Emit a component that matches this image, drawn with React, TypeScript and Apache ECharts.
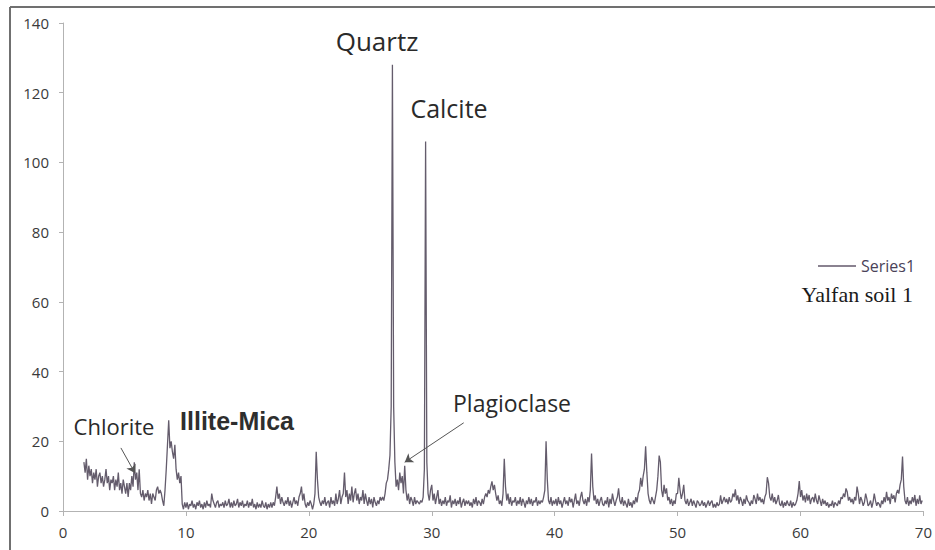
import React, { useEffect, useRef } from "react";
import * as echarts from "echarts";

// XRD pattern "Yalfan soil 1": intensity vs 2-theta (degrees), sampled every 0.1 degree
const STEP = 0.1;

// 1.7 .. 9.9
const seg1Start = 1.7;
const seg1 = [
  14, 11, 15,
  9, 13, 10, 12, 8, 11, 9, 12, 7, 10,
  11, 8, 10, 7, 9, 12, 8, 10, 6, 9,
  8, 10, 6, 9, 7, 11, 6, 8, 5, 9,
  7, 5, 8, 4, 8, 6, 10, 7, 14, 9,
  11, 6, 12, 5, 4, 6, 3, 5, 4, 6,
  3, 5, 2, 5, 4, 3, 6, 7, 5, 6,
  5, 3, 1.5, 6, 12, 19, 26, 18, 20, 17,
  15, 19, 12, 9, 11, 8, 10, 2, 0.5, 2.5,
];

// 10.0 .. 19.9
const seg2Start = 10;
const seg2 = [
  1, 2.5, 0.5, 2, 1.5, 3, 1, 2, 0.5, 2.5,
  1.5, 3, 1, 2, 0.5, 2.5, 1, 3, 1.5, 2,
  1, 5, 3, 2, 1, 2.5, 3, 1, 2, 1.5,
  2.5, 1, 3, 1.5, 2, 3.5, 1, 2.5, 1, 3,
  1.5, 2, 3.5, 1, 2.5, 1.5, 3, 1, 2, 1.5,
  3, 1, 2.5, 1.5, 3.5, 1, 2, 0.5, 2.5, 1,
  2, 1, 3, 1.5, 1, 2.5, 0.5, 2, 1, 2.5,
  1, 2.5, 1.5, 4, 7, 3.5, 5, 2, 4, 2.5,
  1.5, 3, 2, 4, 1.5, 3, 1, 2.5, 4, 2,
  3, 1.5, 4, 5, 7, 3, 5, 2, 1, 2.5,
];

// 20.0 .. 29.9 (Quartz, Plagioclase, Calcite)
const seg3Start = 20;
const seg3 = [
  1.5, 3, 2, 0.5, 2, 5, 17, 9, 4, 2.5,
  1.5, 3, 2, 4, 1.5, 2.5, 3, 1, 4, 2,
  3, 1.5, 5, 2, 3.5, 6, 2, 4, 5, 11,
  4, 6, 2, 5, 3, 7, 2.5, 5, 6.5, 3,
  5, 2, 4, 3, 6, 2, 5, 3, 1.5, 4,
  2, 3.5, 1, 4, 2.5, 1.5, 3, 2, 4, 3,
  4, 3, 5, 8, 9, 12, 16, 30, 128, 30,
  14, 7, 9, 6, 11, 8, 10, 5, 13, 6,
  3, 5, 2, 4, 3, 1.5, 4, 2, 3, 2.5,
  2, 3, 2.5, 4, 12, 106, 14, 5, 3, 6,
];

// 30.0 .. 39.9
const seg4Start = 30;
const seg4 = [
  7.5, 3, 5, 2, 4, 6, 2, 3.5, 1.5, 3,
  2, 4, 1.5, 3, 2.5, 4.5, 1, 3, 2, 3.5,
  1.5, 3, 2, 4, 1, 2.5, 3.5, 1.5, 3, 2,
  3, 1.5, 2.5, 1, 3.5, 2, 4, 1.5, 3, 2.5,
  1.5, 3.5, 2, 4, 5, 4, 6, 5, 7, 8.5,
  6, 7.5, 5, 3, 4.5, 2, 3, 1.5, 5, 15,
  7, 3, 5, 2, 4, 1.5, 3, 2.5, 4, 1.5,
  3, 2, 4, 1.5, 3.5, 2.5, 1, 3, 2, 4,
  2, 3.5, 1.5, 3, 2.5, 4, 1.5, 3, 2, 3,
  2.5, 4, 6, 20, 9, 3, 2, 4, 1.5, 3,
];

// 40.0 .. 49.9
const seg5Start = 40;
const seg5 = [
  2, 3.5, 1.5, 4, 2, 3, 1, 2.5, 4, 2,
  3, 1.5, 4, 2.5, 3.5, 1, 3, 5, 2, 3,
  1.5, 4, 5.5, 3, 2, 3.5, 1.5, 4, 2.5, 6,
  16.5, 7, 3, 4.5, 2, 3.5, 1.5, 3, 4, 2,
  1.5, 3, 2, 4, 1, 3.5, 2, 5, 3, 1.5,
  3, 4, 6.5, 3, 2, 4, 1.5, 3, 2, 1,
  3.5, 1.5, 2.5, 1, 3, 2, 4, 2.5, 5, 6,
  9.5, 7, 10, 12, 18.6, 11, 5, 3, 2, 4,
  3, 2, 4, 6, 10, 15.9, 14, 6, 4, 7.5,
  5, 6.5, 3, 4, 2, 3.5, 1.5, 3, 2, 5,
];

// 50.0 .. 59.9
const seg6Start = 50;
const seg6 = [
  5, 9.5, 6, 3.5, 5, 7.5, 3, 2, 3.5, 1.5,
  2.5, 3.5, 1.5, 3, 2, 1, 3, 2.5, 1.5, 2,
  3, 1.5, 2.5, 1, 2, 3, 1.5, 2.5, 3, 1,
  2, 1, 2.5, 1.5, 2, 4.5, 2, 3, 4, 2.5,
  3.5, 2, 4, 2.5, 3, 5, 4, 6.2, 3, 4.5,
  2, 4, 3, 1.5, 3.5, 2, 4.5, 3, 2.5, 1.5,
  3, 2, 4.6, 3.5, 2, 5, 3, 4, 2.5, 3.5,
  2, 4, 5, 9.7, 8, 4, 3, 5, 2.5, 4,
  2, 3, 4.6, 2, 1.5, 3, 1, 2.5, 1.5, 3,
  2, 1.5, 3, 1, 2.5, 1.5, 2, 3, 5, 8.6,
];

// 60.0 .. 69.9
const seg7Start = 60;
const seg7 = [
  4, 6, 3, 4.5, 2.5, 5, 3, 4.6, 2, 3.5,
  4, 2.5, 5, 3, 2, 4.5, 3, 1.5, 3.5, 2,
  3, 1.5, 2.5, 1, 2, 1.5, 3, 1, 2.5, 2,
  1.5, 3, 2, 4, 3.5, 5, 4, 6.5, 5.5, 3,
  4, 2.5, 3.5, 2, 4, 3, 7, 5, 2, 4,
  3, 1.5, 2.5, 5, 3.5, 1.5, 2, 3, 1, 2.5,
  5, 3, 1.5, 2.5, 2, 1, 3, 2, 4, 2.5,
  5.5, 3, 4, 2, 5, 3.5, 4.5, 2.5, 5, 6,
  5, 7.5, 9, 15.6, 7, 3, 2, 4, 1.5, 3,
  2, 4, 2.5, 4.6, 1.5, 3.5, 2, 4.5, 2, 3,
];

const segments: { start: number; values: number[] }[] = [
  { start: seg1Start, values: seg1 },
  { start: seg2Start, values: seg2 },
  { start: seg3Start, values: seg3 },
  { start: seg4Start, values: seg4 },
  { start: seg5Start, values: seg5 },
  { start: seg6Start, values: seg6 },
  { start: seg7Start, values: seg7 },
];

// Arrow annotations in data coordinates: [from, to]
const chloriteArrow = [[4.71, 18.1], [5.85, 10.9]];
const plagioclaseArrow = [[32.6, 25.3], [27.8, 14.0]];

function buildPoints(): [number, number][] {
  const pts: [number, number][] = [];
  segments.forEach((s) => {
    s.values.forEach((v, i) => {
      pts.push([Math.round((s.start + i * STEP) * 10) / 10, v]);
    });
  });
  return pts;
}

const LINE_COLOR = "#645c6c";
const AXIS_COLOR = "#b3b3b3";
const LABEL_COLOR = "#3a3a3a";

function label(text: string, x: number, y: number, size: number, family: string, weight: string = "normal", align: string = "center", fill: string = "#2a2a2a") {
  return {
    type: "text",
    x,
    y,
    silent: true,
    style: {
      text,
      fontSize: size,
      fontFamily: family,
      fontWeight: weight,
      fill,
      align,
      verticalAlign: "middle",
      textAlign: align,
      textVerticalAlign: "middle",
    },
  };
}

export default function App() {
  const ref = useRef<HTMLDivElement>(null);

  useEffect(() => {
    if (!ref.current) return;
    const chart = echarts.init(ref.current, undefined, { renderer: "svg" });
    const points = buildPoints();

    chart.setOption({
      animation: false,
      backgroundColor: "#ffffff",
      grid: { left: 63, right: 11, top: 23, bottom: 39 },
      xAxis: {
        type: "value",
        min: 0,
        max: 70,
        interval: 10,
        axisLine: { show: true, onZero: false, lineStyle: { color: AXIS_COLOR, width: 1 } },
        axisTick: { show: true, length: 5, lineStyle: { color: AXIS_COLOR } },
        axisLabel: { fontFamily: "Open Sans", fontSize: 15, color: LABEL_COLOR, margin: 13 },
        splitLine: { show: false },
      },
      yAxis: {
        type: "value",
        min: 0,
        max: 140,
        interval: 20,
        axisLine: { show: true, lineStyle: { color: AXIS_COLOR, width: 1 } },
        axisTick: { show: true, length: 4, lineStyle: { color: AXIS_COLOR } },
        axisLabel: { fontFamily: "Open Sans", fontSize: 15, color: LABEL_COLOR, margin: 14 },
        splitLine: { show: false },
      },
      legend: {
        data: ["Series1"],
        left: 813,
        top: 253,
        icon: "rect",
        itemWidth: 38,
        itemHeight: 2,
        itemStyle: { color: "#8a8290" },
        textStyle: { fontFamily: "Open Sans", fontSize: 16, color: "#4a4258", padding: [0, 0, 0, 0] },
      },
      series: [
        {
          name: "Series1",
          type: "line",
          data: points,
          symbol: "none",
          showSymbol: false,
          lineStyle: { color: LINE_COLOR, width: 1.3 },
          itemStyle: { color: LINE_COLOR },
          markLine: {
            silent: true,
            animation: false,
            symbol: ["none", "arrow"],
            symbolSize: 8,
            label: { show: false },
            emphasis: { disabled: true },
            lineStyle: { color: "#555555", width: 1, type: "solid" },
            data: [
              [{ coord: chloriteArrow[0] }, { coord: chloriteArrow[1] }],
              [{ coord: plagioclaseArrow[0] }, { coord: plagioclaseArrow[1] }],
            ],
          },
        },
      ],
      graphic: [
        { type: "line", silent: true, shape: { x1: 10, y1: 7, x2: 935, y2: 7 }, style: { stroke: "#707070", lineWidth: 2 } },
        { type: "line", silent: true, shape: { x1: 10, y1: 7, x2: 10, y2: 550 }, style: { stroke: "#707070", lineWidth: 2 } },
        label("Quartz", 377, 41, 26, "Open Sans"),
        label("Calcite", 449, 108, 25, "Open Sans"),
        label("Plagioclase", 512, 403, 23, "Open Sans"),
        label("Chlorite", 114, 426, 22, "Open Sans"),
        label("Illite-Mica", 237, 421, 25, "Liberation Sans", "bold", "center", "#2e2e2e"),
        label("Yalfan soil 1", 913, 294, 22, "Liberation Serif", "normal", "right", "#1a1a1a"),
      ],
    });

    return () => {
      chart.dispose();
    };
  }, []);

  return (
    <div
      ref={ref}
      style={{ position: "fixed", left: 0, top: 0, width: 935, height: 550, background: "#fff" }}
    />
  );
}
